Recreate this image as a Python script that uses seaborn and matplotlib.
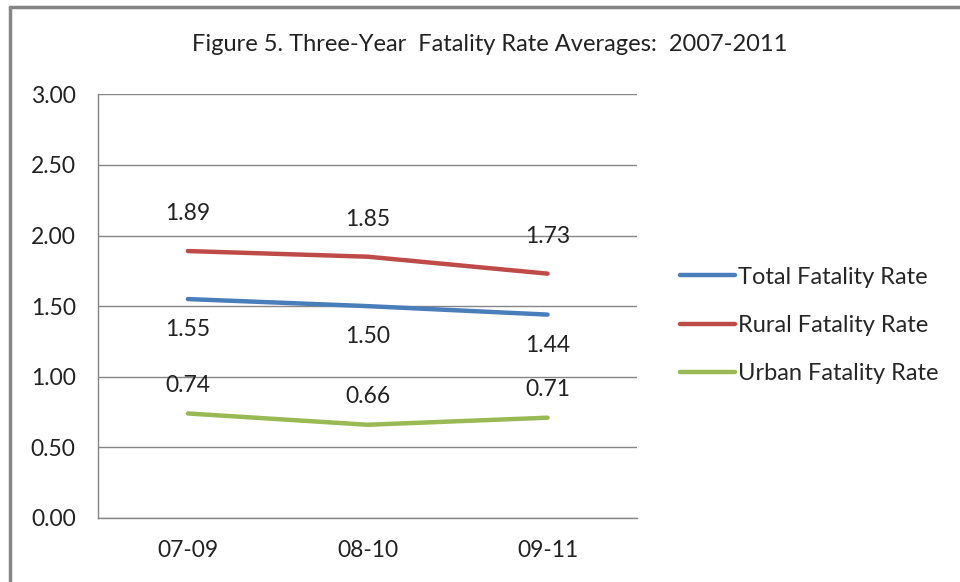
import pandas as pd
import numpy as np
import matplotlib.pyplot as plt
import seaborn as sns
from matplotlib.lines import Line2D

# Data
periods = ['07-09', '08-10', '09-11']
total_rate = [1.55, 1.50, 1.44]
rural_rate = [1.89, 1.85, 1.73]
urban_rate = [0.74, 0.66, 0.71]
series_names = ['Total Fatality Rate', 'Rural Fatality Rate', 'Urban Fatality Rate']

df = pd.DataFrame({
    'period': periods * 3,
    'rate': total_rate + rural_rate + urban_rate,
    'series': [series_names[0]] * 3 + [series_names[1]] * 3 + [series_names[2]] * 3,
})

sns.set_style('white')
plt.rcParams['font.family'] = ['Lato', 'DejaVu Sans']

colors = {'Total Fatality Rate': '#4A7EBB',
          'Rural Fatality Rate': '#BE4B48',
          'Urban Fatality Rate': '#98B954'}

fig = plt.figure(figsize=(9.6, 5.82), dpi=100)
ax = fig.add_axes([0.102, 0.110, 0.562, 0.728])

sns.lineplot(data=df, x='period', y='rate', hue='series', palette=colors,
             linewidth=3.2, sort=False, ax=ax, legend=False)
for line in ax.get_lines():
    line.set_solid_capstyle('round')

# Data labels (Excel-like placement)
label_offsets = {'Total Fatality Rate': -22, 'Rural Fatality Rate': 27, 'Urban Fatality Rate': 20}
for name, vals in zip(series_names, [total_rate, rural_rate, urban_rate]):
    for i, v in enumerate(vals):
        ax.annotate(f'{v:.2f}', (i, v), xytext=(0, label_offsets[name]),
                    textcoords='offset points', ha='center', va='center',
                    fontsize=16.5, color='#222222')

ax.set_xlim(-0.5, 2.5)
ax.set_ylim(0, 3)
ax.set_yticks(np.arange(0, 3.01, 0.5))
ax.set_yticklabels([f'{t:.2f}' for t in np.arange(0, 3.01, 0.5)])
ax.set_xticks(range(3))
ax.set_xticklabels(periods)
ax.set_xticks([-0.5, 0.5, 1.5, 2.5], minor=True)
ax.tick_params(axis='x', which='major', length=0, pad=16, labelsize=16.5, colors='#222222')
ax.tick_params(axis='x', which='minor', length=7, width=1, color='#868686', direction='out')
ax.tick_params(axis='y', length=7, width=1, color='#868686', direction='out',
               pad=9, labelsize=16.5, labelcolor='#222222')
ax.yaxis.grid(True, color='#868686', linewidth=1)
ax.set_axisbelow(True)
ax.set_xlabel('')
ax.set_ylabel('')
for side in ['top', 'right']:
    ax.spines[side].set_visible(False)
for side in ['left', 'bottom']:
    ax.spines[side].set_color('#868686')
    ax.spines[side].set_linewidth(1)

# Legend
handles = [Line2D([0], [0], color=colors[n], lw=3.2, solid_capstyle='round') for n in series_names]
fig.legend(handles, series_names, loc='center left', bbox_to_anchor=(0.686, 0.441),
           frameon=False, fontsize=17, handlelength=2.35, handletextpad=0.1,
           labelspacing=1.15)

fig.suptitle('Figure 5. Three-Year  Fatality Rate Averages:  2007-2011',
             x=0.51, y=0.942, fontsize=17, color='#222222')

# Chart border
fig.add_artist(Line2D([10 / 960, 10 / 960], [0, 1 - 7 / 582], transform=fig.transFigure,
                      color='#868686', lw=2.5))
fig.add_artist(Line2D([10 / 960, 1], [1 - 7 / 582, 1 - 7 / 582], transform=fig.transFigure,
                      color='#868686', lw=2.5))

fig.savefig('out.png', dpi=100)
